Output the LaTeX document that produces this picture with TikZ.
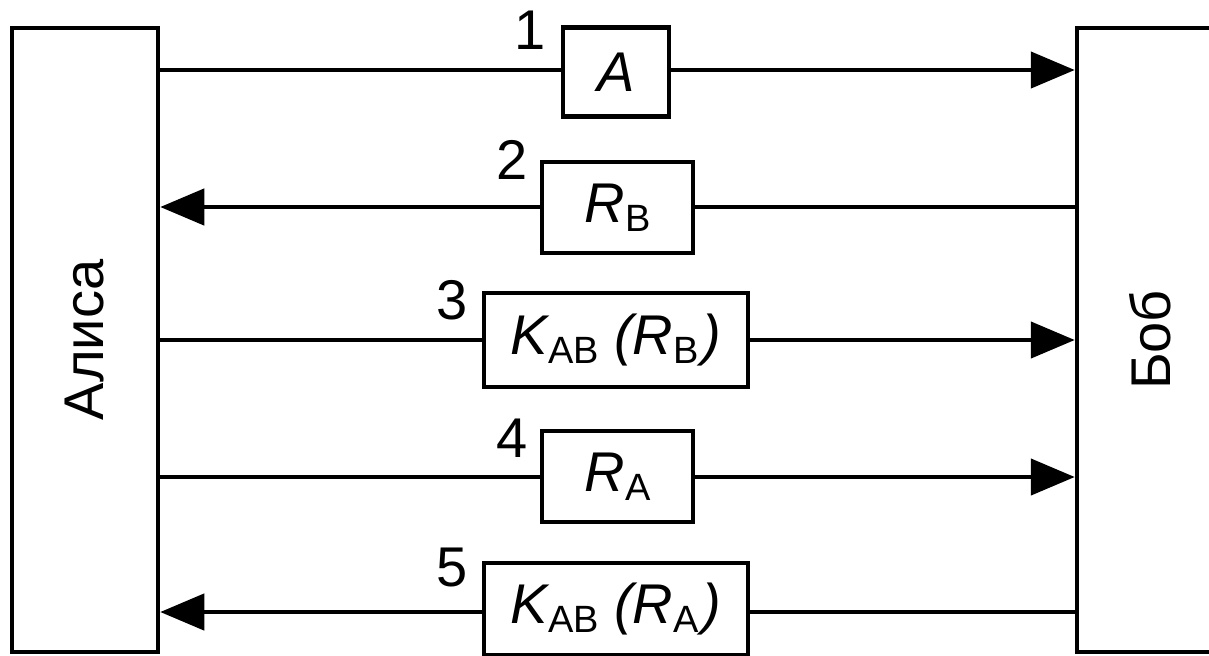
\documentclass[tikz,border=0pt]{standalone}
\usepackage{fontspec}
\setmainfont{Liberation Sans}
\usetikzlibrary{arrows.meta}
% lowered upright subscript used in the message labels
\newcommand{\lo}[1]{\raisebox{-4.5pt}{\fontsize{19}{19}\selectfont\upshape #1}}
\begin{document}
\begin{tikzpicture}[x=0.5pt,y=-0.5pt,line width=2.25pt,
  party/.style={draw,minimum width=73pt,minimum height=312pt,inner sep=0pt},
  msg/.style={draw,fill=white,inner sep=0pt,font=\fontsize{28}{30}\selectfont},
  num/.style={inner sep=0pt,font=\fontsize{28}{30}\selectfont},
  pname/.style={rotate=90,inner sep=0pt,font=\fontsize{28}{30}\selectfont},
  arr/.style={-{Triangle[length=22pt,width=18pt]}}]
\useasboundingbox (0,0) rectangle (1209,655);

% the two parties
\node[party] (alice) at (85,340) {};
\node[party] (bob) at (1150,340) {};
\node[pname] (alicename) at (85,340) {Алиса};
\node[pname] (bobname) at (1150,340) {Боб};

% levels of the five messages
\coordinate (l1) at (616,70);
\coordinate (l2) at (616,207);
\coordinate (l3) at (616,340);
\coordinate (l4) at (616,477);
\coordinate (l5) at (616,612);

% message boxes
\node[msg,minimum width=53pt,minimum height=44.5pt] (m1) at (616,72) {\itshape A};
\node[msg,minimum width=75.5pt,minimum height=45.5pt] (m2) at (617.5,207.5) {{\itshape R}\lo{B}};
\node[msg,minimum width=132pt,minimum height=47pt] (m3) at (616,340) {{\itshape K}\lo{AB} {\itshape (R}\lo{B}\kern2pt{\itshape )}};
\node[msg,minimum width=75.5pt,minimum height=45.5pt] (m4) at (617.5,476.5) {{\itshape R}\lo{A}};
\node[msg,minimum width=132pt,minimum height=46pt] (m5) at (616,609) {{\itshape K}\lo{AB} {\itshape (R}\lo{A}\kern2pt{\itshape )}};

% step numbers
\node[num] (n1) at (530,30) {1};
\node[num] (n2) at (512,160) {2};
\node[num] (n3) at (452,300) {3};
\node[num] (n4) at (512,438) {4};
\node[num] (n5) at (452,567) {5};

% 1: Alice -> Bob
\draw (l1 -| alice.east) -- (l1 -| m1.west);
\draw[arr] (l1 -| m1.east) -- (l1 -| bob.west);
% 2: Bob -> Alice
\draw (l2 -| bob.west) -- (l2 -| m2.east);
\draw[arr] (l2 -| m2.west) -- (l2 -| alice.east);
% 3: Alice -> Bob
\draw (l3 -| alice.east) -- (l3 -| m3.west);
\draw[arr] (l3 -| m3.east) -- (l3 -| bob.west);
% 4: Alice -> Bob
\draw (l4 -| alice.east) -- (l4 -| m4.west);
\draw[arr] (l4 -| m4.east) -- (l4 -| bob.west);
% 5: Bob -> Alice
\draw (l5 -| bob.west) -- (l5 -| m5.east);
\draw[arr] (l5 -| m5.west) -- (l5 -| alice.east);
\end{tikzpicture}
\end{document}
